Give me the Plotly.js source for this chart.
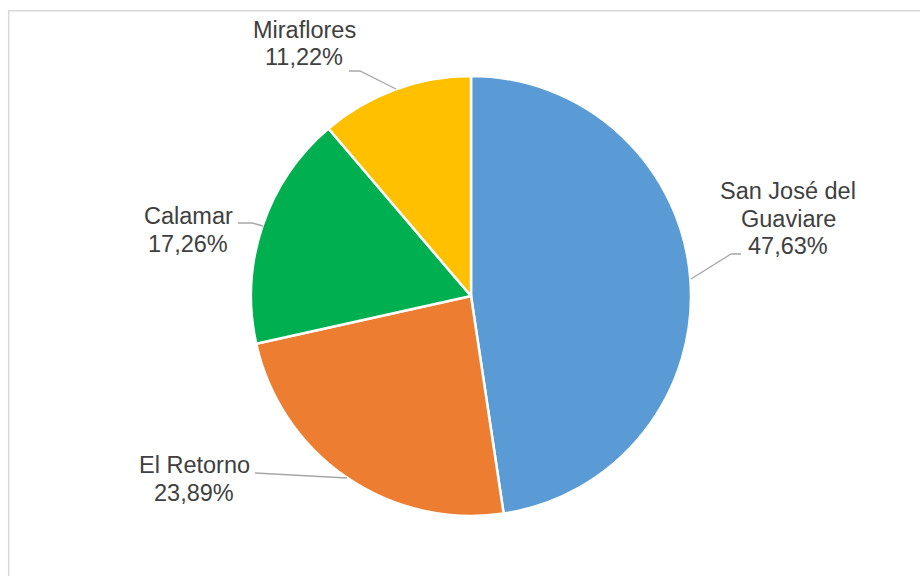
<!DOCTYPE html>
<html>
<head>
<meta charset="utf-8">
<script src="https://cdn.plot.ly/plotly-3.0.1.min.js"></script>
<style>html,body{margin:0;padding:0;background:#fff;}#chart{width:920px;height:576px;}</style>
</head>
<body>
<div id="chart"></div>
<script>
// ---- data ----
const municipios = ["San José del Guaviare", "El Retorno", "Calamar", "Miraflores"];
const porcentajes = [47.63, 23.89, 17.26, 11.22];
const labelLines = [["San José del", "Guaviare"], ["El Retorno"], ["Calamar"], ["Miraflores"]];
const colores = ["#5B9BD5", "#ED7D31", "#00B050", "#FFC000"];

// ---- layout helpers (pixel -> paper, margins are zero) ----
const W = 920, H = 576;
const px = x => x / W;
const py = y => 1 - y / H;
const fmt = v => v.toFixed(2).replace(".", ",") + "%";

// label placement (pixel centre x, first baseline y) and leader line paths
const labelPos = [[788, 199], [194, 473], [188, 224], [304, 38]];
const lineStep = 27.5;
const leaders = [
  [[741, 254], [731, 254], [691, 279]],
  [[255, 473], [347, 478]],
  [[238, 223], [252, 223], [263, 226]],
  [[349, 71], [360, 71], [396, 89]]
];

const textFont = {family: "Liberation Sans, Arial, sans-serif", size: 23.5, color: "#404040"};
const annotations = [];
municipios.forEach((m, i) => {
  const lines = labelLines[i].concat([fmt(porcentajes[i])]);
  lines.forEach((t, k) => {
    const baseline = labelPos[i][1] + k * lineStep;
    annotations.push({
      text: t, showarrow: false, xref: "paper", yref: "paper",
      x: px(labelPos[i][0]), y: py(baseline - 8),
      xanchor: "center", yanchor: "middle", font: textFont
    });
  });
});

const shapes = leaders.map(pts => ({
  type: "path", xref: "paper", yref: "paper",
  path: pts.map((p, k) => (k ? "L" : "M") + px(p[0]) + "," + py(p[1])).join(" "),
  line: {color: "#A6A6A6", width: 1.3}
}));
// chart frame
shapes.push({
  type: "rect", xref: "paper", yref: "paper",
  x0: px(8.7), x1: px(930), y0: py(590), y1: py(10.7),
  line: {color: "#D9D9D9", width: 1.5}, fillcolor: "rgba(0,0,0,0)"
});

const cx = 471, cy = 296, r = 220;
const trace = {
  type: "pie",
  labels: municipios,
  values: porcentajes,
  marker: {colors: colores, line: {color: "#FFFFFF", width: 2.5}},
  sort: false,
  direction: "clockwise",
  rotation: 0,
  textinfo: "none",
  hoverinfo: "skip",
  domain: {x: [px(cx - r), px(cx + r)], y: [py(cy + r), py(cy - r)]}
};

const layout = {
  width: W, height: H,
  margin: {l: 0, r: 0, t: 0, b: 0},
  paper_bgcolor: "#FFFFFF",
  showlegend: false,
  annotations: annotations,
  shapes: shapes
};

Plotly.newPlot("chart", [trace], layout, {displayModeBar: false, staticPlot: true});
</script>
</body>
</html>
